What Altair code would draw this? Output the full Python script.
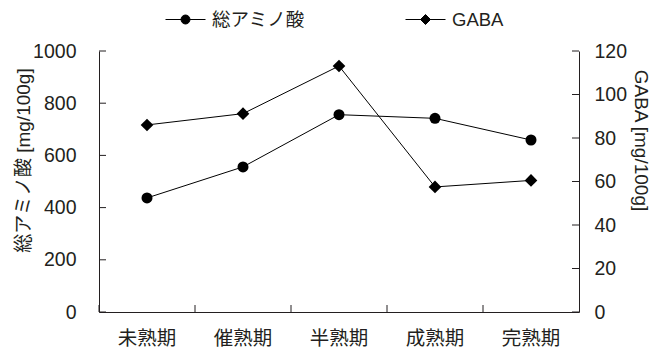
import altair as alt
import pandas as pd

# ---- data ----
stages = ["未熟期", "催熟期", "半熟期", "成熟期", "完熟期"]
amino = [437, 556, 756, 742, 659]
gaba = [86.0, 91.2, 113.1, 57.5, 60.5]
series_names = ["総アミノ酸", "GABA"]
left_ticks = [0, 200, 400, 600, 800, 1000]
right_ticks = [0, 20, 40, 60, 80, 100, 120]

# ---- style ----
W, H = 480, 261
FONT = '"Liberation Sans", "Noto Sans CJK JP", sans-serif'
INK = "#231f20"
TICK = 7

amino_df = pd.DataFrame({"stage": stages, "value": amino})
gaba_df = pd.DataFrame({"stage": stages, "value": gaba})
stage_df = pd.DataFrame({"stage": stages})
lt_df = pd.DataFrame({"value": left_ticks})
rt_df = pd.DataFrame({"value": right_ticks})
legend_df = pd.DataFrame({"series": series_names})

x_scale = alt.Scale(domain=stages, paddingInner=0, paddingOuter=0)
x_axis = alt.Axis(title=None, orient="bottom", ticks=False, tickSize=0, labelPadding=17,
                  labelAngle=0, labelFontSize=19.5, labelColor=INK, domainColor=INK,
                  domainWidth=1, grid=False)

yl_scale = alt.Scale(domain=[0, 1000], nice=False, zero=True)
yl_axis = alt.Axis(title="総アミノ酸 [mg/100g]", orient="left", values=left_ticks, format="d",
                   ticks=False, tickSize=0, labelPadding=23, labelFontSize=19.5, labelColor=INK,
                   grid=False, domainColor=INK, domainWidth=1, titleAngle=270, titleX=-76,
                   titleY=109, titleAlign="center", titleBaseline="middle", titleFontSize=19,
                   titleFontWeight="normal", titleColor=INK)

yr_scale = alt.Scale(domain=[0, 120], nice=False, zero=True)
yr_axis = alt.Axis(title="GABA [mg/100g]", orient="right", values=right_ticks, format="d",
                   ticks=False, tickSize=0, labelPadding=15, labelFontSize=19.5, labelColor=INK,
                   grid=False, domainColor=INK, domainWidth=1, titleAngle=90, titleX=61,
                   titleY=89, titleAlign="center", titleBaseline="middle", titleFontSize=19,
                   titleFontWeight="normal", titleColor=INK)

X = alt.X("stage:N", scale=x_scale, axis=x_axis, sort=stages, bandPosition=0.5)

circle_path = "M-2,0H2M-0.45,0A0.45,0.45,0,1,0,0.45,0A0.45,0.45,0,1,0,-0.45,0Z"
diamond_path = "M-2,0H2M-0.5,0L0,-0.5L0.5,0L0,0.5Z"

# left group (総アミノ酸)
amino_line = alt.Chart(amino_df).mark_line(color="black", strokeWidth=1).encode(
    x=X, y=alt.Y("value:Q", scale=yl_scale, axis=yl_axis))
amino_pts = alt.Chart(amino_df).mark_point(shape="circle", filled=True, size=121,
                                           color="black", opacity=1).encode(
    x=X, y=alt.Y("value:Q", scale=yl_scale, axis=yl_axis))
lt_rules = alt.Chart(lt_df).mark_rule(color=INK, strokeWidth=1).encode(
    y=alt.Y("value:Q", scale=yl_scale, axis=yl_axis), x=alt.value(0), x2=alt.value(TICK))
xt_rules = alt.Chart(stage_df).mark_rule(color=INK, strokeWidth=1).encode(
    x=alt.X("stage:N", scale=x_scale, axis=x_axis, sort=stages, bandPosition=0),
    y=alt.value(H), y2=alt.value(H - TICK))
legend_layer = alt.Chart(legend_df).transform_filter("false").mark_point(
    filled=True, fill="black", stroke="black", strokeWidth=1, opacity=1).encode(
    shape=alt.Shape("series:N",
                    scale=alt.Scale(domain=series_names, range=[circle_path, diamond_path]),
                    legend=alt.Legend(title=None, orient="none", legendX=76, legendY=-42,
                                      direction="horizontal", symbolSize=400, labelOffset=16,
                                      columnPadding=98, labelFontSize=18.5, labelFont=FONT,
                                      labelColor=INK, padding=0, symbolStrokeWidth=1)))

left = alt.layer(amino_line, amino_pts, lt_rules, xt_rules, legend_layer)

# right group (GABA)
gaba_line = alt.Chart(gaba_df).mark_line(color="black", strokeWidth=1).encode(
    x=X, y=alt.Y("value:Q", scale=yr_scale, axis=yr_axis))
gaba_pts = alt.Chart(gaba_df).mark_point(shape="diamond", filled=True, size=160,
                                         color="black", opacity=1).encode(
    x=X, y=alt.Y("value:Q", scale=yr_scale, axis=yr_axis))
rt_rules = alt.Chart(rt_df).mark_rule(color=INK, strokeWidth=1).encode(
    y=alt.Y("value:Q", scale=yr_scale, axis=yr_axis), x=alt.value(W), x2=alt.value(W - TICK))

right = alt.layer(gaba_line, gaba_pts, rt_rules)

chart = alt.layer(left, right).resolve_scale(y="independent").properties(
    width=W, height=H,
    padding={"left": 99, "top": 51, "right": 85, "bottom": 39},
    autosize=alt.AutoSizeParams(type="none"),
).configure(font=FONT).configure_view(stroke=None)

chart.save("out.html", embed_options={"renderer": "svg", "actions": False})
